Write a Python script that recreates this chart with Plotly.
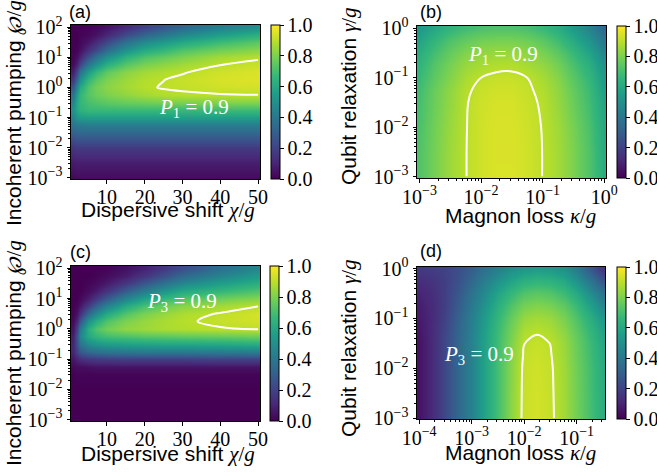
import plotly.graph_objects as go

# ---------------- data ----------------
# panels (a),(c): dispersive shift chi/g (columns) vs log10 incoherent pumping (rows)
chi = [1, 2, 3, 5, 7, 10, 15, 20, 25, 30, 40, 50]
log_pump = [-3, -2.5, -2, -1.5, -1.25, -1, -0.75, -0.5, -0.25, 0, 0.25, 0.5, 0.75, 1, 1.25, 1.5, 1.75, 2]

P1_a = [
    [0.02, 0.03, 0.03, 0.03, 0.03, 0.03, 0.03, 0.03, 0.03, 0.03, 0.03, 0.03],
    [0.07, 0.08, 0.08, 0.08, 0.08, 0.08, 0.08, 0.08, 0.08, 0.08, 0.08, 0.08],
    [0.15, 0.17, 0.17, 0.17, 0.17, 0.17, 0.17, 0.17, 0.17, 0.17, 0.17, 0.17],
    [0.30, 0.32, 0.33, 0.33, 0.33, 0.33, 0.33, 0.33, 0.33, 0.33, 0.33, 0.33],
    [0.38, 0.40, 0.41, 0.42, 0.42, 0.42, 0.42, 0.42, 0.42, 0.42, 0.42, 0.42],
    [0.45, 0.52, 0.54, 0.55, 0.55, 0.55, 0.55, 0.55, 0.55, 0.55, 0.55, 0.55],
    [0.50, 0.60, 0.64, 0.67, 0.67, 0.67, 0.67, 0.67, 0.67, 0.67, 0.68, 0.68],
    [0.45, 0.60, 0.66, 0.70, 0.72, 0.74, 0.76, 0.77, 0.78, 0.79, 0.80, 0.80],
    [0.38, 0.56, 0.66, 0.73, 0.77, 0.80, 0.83, 0.86, 0.88, 0.89, 0.895, 0.899],
    [0.27, 0.46, 0.60, 0.72, 0.78, 0.82, 0.86, 0.89, 0.905, 0.91, 0.93, 0.935],
    [0.16, 0.34, 0.50, 0.66, 0.74, 0.80, 0.85, 0.885, 0.899, 0.915, 0.94, 0.95],
    [0.08, 0.22, 0.38, 0.55, 0.66, 0.75, 0.82, 0.86, 0.88, 0.895, 0.93, 0.945],
    [0.03, 0.10, 0.22, 0.40, 0.52, 0.64, 0.74, 0.80, 0.83, 0.86, 0.899, 0.92],
    [0.01, 0.04, 0.10, 0.25, 0.37, 0.50, 0.64, 0.72, 0.76, 0.80, 0.86, 0.89],
    [0.00, 0.01, 0.04, 0.13, 0.22, 0.35, 0.51, 0.61, 0.66, 0.72, 0.78, 0.82],
    [0.00, 0.00, 0.02, 0.06, 0.12, 0.22, 0.37, 0.48, 0.54, 0.60, 0.68, 0.74],
    [0.00, 0.00, 0.01, 0.02, 0.05, 0.11, 0.23, 0.33, 0.40, 0.47, 0.56, 0.63],
    [0.00, 0.00, 0.00, 0.01, 0.02, 0.05, 0.12, 0.20, 0.27, 0.33, 0.43, 0.50],
]

P3_c = [
    [0.00, 0.00, 0.00, 0.00, 0.00, 0.00, 0.00, 0.00, 0.00, 0.00, 0.00, 0.00],
    [0.00, 0.00, 0.00, 0.00, 0.00, 0.00, 0.00, 0.00, 0.00, 0.00, 0.00, 0.00],
    [0.00, 0.00, 0.00, 0.00, 0.00, 0.00, 0.00, 0.00, 0.00, 0.00, 0.00, 0.00],
    [0.00, 0.01, 0.01, 0.01, 0.01, 0.01, 0.01, 0.01, 0.01, 0.01, 0.01, 0.01],
    [0.02, 0.03, 0.03, 0.04, 0.05, 0.05, 0.05, 0.05, 0.05, 0.05, 0.05, 0.05],
    [0.06, 0.10, 0.13, 0.16, 0.17, 0.18, 0.19, 0.19, 0.19, 0.19, 0.20, 0.20],
    [0.10, 0.20, 0.27, 0.33, 0.36, 0.38, 0.39, 0.40, 0.40, 0.40, 0.41, 0.42],
    [0.10, 0.25, 0.38, 0.48, 0.52, 0.55, 0.57, 0.58, 0.59, 0.59, 0.60, 0.62],
    [0.08, 0.26, 0.45, 0.60, 0.66, 0.70, 0.72, 0.74, 0.75, 0.76, 0.77, 0.78],
    [0.05, 0.20, 0.40, 0.62, 0.72, 0.78, 0.83, 0.85, 0.87, 0.88, 0.895, 0.905],
    [0.02, 0.11, 0.26, 0.50, 0.62, 0.72, 0.80, 0.84, 0.87, 0.89, 0.915, 0.93],
    [0.01, 0.05, 0.14, 0.34, 0.48, 0.61, 0.73, 0.80, 0.84, 0.875, 0.905, 0.935],
    [0.00, 0.02, 0.06, 0.18, 0.31, 0.45, 0.61, 0.71, 0.77, 0.82, 0.86, 0.899],
    [0.00, 0.00, 0.02, 0.08, 0.17, 0.29, 0.46, 0.58, 0.67, 0.73, 0.78, 0.82],
    [0.00, 0.00, 0.00, 0.03, 0.07, 0.15, 0.29, 0.42, 0.52, 0.60, 0.66, 0.72],
    [0.00, 0.00, 0.00, 0.01, 0.03, 0.07, 0.16, 0.27, 0.37, 0.46, 0.55, 0.62],
    [0.00, 0.00, 0.00, 0.00, 0.01, 0.03, 0.08, 0.16, 0.25, 0.34, 0.45, 0.54],
    [0.00, 0.00, 0.00, 0.00, 0.00, 0.01, 0.04, 0.09, 0.16, 0.24, 0.36, 0.46],
]

# panel (b): log10 magnon loss kappa/g (columns) vs log10 qubit relaxation gamma/g (rows)
log_kappa_b = [-3, -2.75, -2.5, -2.25, -2, -1.75, -1.5, -1.25, -1, -0.75, -0.5, -0.25, 0]
log_gamma_b = [-3, -2.5, -2, -1.5, -1.25, -1, -0.75, -0.5, -0.25, 0]
P1_b = [
    [0.72, 0.79, 0.85, 0.898, 0.93, 0.945, 0.945, 0.93, 0.899, 0.86, 0.80, 0.72, 0.62],
    [0.72, 0.79, 0.85, 0.898, 0.93, 0.944, 0.944, 0.93, 0.899, 0.86, 0.80, 0.72, 0.61],
    [0.71, 0.785, 0.845, 0.897, 0.93, 0.943, 0.943, 0.928, 0.897, 0.855, 0.79, 0.71, 0.60],
    [0.70, 0.775, 0.835, 0.895, 0.925, 0.938, 0.938, 0.92, 0.89, 0.84, 0.77, 0.69, 0.58],
    [0.69, 0.77, 0.83, 0.888, 0.918, 0.93, 0.93, 0.913, 0.88, 0.83, 0.76, 0.68, 0.56],
    [0.67, 0.75, 0.81, 0.87, 0.90, 0.915, 0.917, 0.90, 0.865, 0.815, 0.74, 0.66, 0.54],
    [0.65, 0.73, 0.79, 0.845, 0.866, 0.882, 0.884, 0.866, 0.835, 0.785, 0.71, 0.63, 0.51],
    [0.62, 0.70, 0.76, 0.81, 0.835, 0.845, 0.845, 0.83, 0.795, 0.745, 0.67, 0.58, 0.46],
    [0.58, 0.66, 0.72, 0.76, 0.785, 0.795, 0.795, 0.78, 0.745, 0.69, 0.61, 0.52, 0.40],
    [0.53, 0.60, 0.65, 0.69, 0.71, 0.72, 0.72, 0.705, 0.67, 0.62, 0.54, 0.45, 0.33],
]

# panel (d)
log_kappa_d = [-4, -3.75, -3.5, -3.25, -3, -2.75, -2.5, -2.25, -2, -1.75, -1.5, -1.25, -1, -0.75, -0.5]
log_gamma_d = [-3, -2.5, -2, -1.75, -1.5, -1.25, -1, -0.75, -0.5, -0.25, 0]
P3_d = [
    [0.05, 0.12, 0.22, 0.33, 0.45, 0.58, 0.70, 0.82, 0.92, 0.935, 0.915, 0.86, 0.78, 0.70, 0.62],
    [0.05, 0.12, 0.22, 0.33, 0.45, 0.58, 0.70, 0.82, 0.918, 0.933, 0.913, 0.858, 0.778, 0.698, 0.615],
    [0.05, 0.12, 0.22, 0.33, 0.45, 0.58, 0.70, 0.815, 0.915, 0.93, 0.91, 0.855, 0.775, 0.695, 0.61],
    [0.05, 0.12, 0.22, 0.33, 0.45, 0.58, 0.70, 0.81, 0.908, 0.924, 0.905, 0.85, 0.77, 0.69, 0.60],
    [0.05, 0.12, 0.22, 0.33, 0.45, 0.575, 0.69, 0.80, 0.899, 0.915, 0.899, 0.845, 0.765, 0.68, 0.59],
    [0.06, 0.12, 0.21, 0.32, 0.44, 0.565, 0.68, 0.785, 0.875, 0.893, 0.875, 0.825, 0.745, 0.66, 0.57],
    [0.07, 0.12, 0.20, 0.31, 0.43, 0.55, 0.66, 0.76, 0.84, 0.86, 0.845, 0.795, 0.715, 0.625, 0.53],
    [0.08, 0.12, 0.19, 0.29, 0.41, 0.52, 0.63, 0.72, 0.79, 0.81, 0.795, 0.75, 0.67, 0.57, 0.46],
    [0.10, 0.13, 0.19, 0.27, 0.38, 0.48, 0.58, 0.66, 0.72, 0.74, 0.725, 0.68, 0.60, 0.49, 0.37],
    [0.13, 0.15, 0.19, 0.25, 0.34, 0.43, 0.51, 0.58, 0.63, 0.65, 0.64, 0.60, 0.51, 0.39, 0.26],
    [0.17, 0.18, 0.20, 0.24, 0.30, 0.37, 0.43, 0.49, 0.53, 0.55, 0.54, 0.50, 0.41, 0.28, 0.15],
]

cbar_ticks = [0.0, 0.2, 0.4, 0.6, 0.8, 1.0]
level = 0.9

# ---------------- figure ----------------
W, H = 657, 473
SERIF = "Liberation Serif"
SANS = "Liberation Sans"
TICK = 20


def px_x(p):
    return p / W


def px_y(p):
    return 1 - p / H


def pow10(vals):
    return [10 ** v for v in vals]


def sup_label(e):
    s = str(e).replace("-", "\u2212")
    return "10<sup>" + s + "</sup>"


fig = go.Figure()

panels = [
    # x, y, z, domain px (l,r,t,b), cbar x px
    (chi, pow10(log_pump), P1_a, (71, 260, 25, 179), 271),
    (pow10(log_kappa_b), pow10(log_gamma_b), P1_b, (417, 606, 26, 178), 617),
    (chi, pow10(log_pump), P3_c, (71, 260, 266, 421), 270),
    (pow10(log_kappa_d), pow10(log_gamma_d), P3_d, (417, 605, 267, 419), 617),
]

for i, (x, y, z, dom, cbx) in enumerate(panels):
    ax = "" if i == 0 else str(i + 1)
    l, r, t, b = dom
    fig.add_trace(go.Heatmap(
        x=x, y=y, z=z, zmin=0, zmax=1, colorscale="Viridis", zsmooth="best",
        xaxis="x" + ax, yaxis="y" + ax, hoverinfo="skip",
        colorbar=dict(
            x=px_x(cbx), xanchor="left", xpad=0,
            y=px_y(t), yanchor="top", ypad=0,
            len=(b - t) / H, lenmode="fraction",
            thickness=9, thicknessmode="pixels",
            outlinewidth=1, outlinecolor="black",
            tickvals=cbar_ticks, ticktext=["%.1f" % v for v in cbar_ticks],
            ticks="outside", ticklen=3.5, tickwidth=1, tickcolor="black",
            tickfont=dict(family=SERIF, size=TICK, color="black"),
        ),
    ))
    fig.add_trace(go.Contour(
        x=x, y=y, z=z, xaxis="x" + ax, yaxis="y" + ax, showscale=False,
        contours=dict(start=level, end=level, size=0.1, coloring="none"),
        line=dict(color="white", width=2, smoothing=1), hoverinfo="skip",
    ))

common = dict(showline=True, linecolor="black", linewidth=1, mirror=True,
              ticks="outside", ticklen=3.5, tickwidth=1, tickcolor="black",
              tickfont=dict(family=SERIF, size=TICK, color="black"),
              showgrid=False, zeroline=False, automargin=False)


def minor_vals(e0, e1):
    out = []
    for e in range(e0, e1 + 1):
        for m in range(2, 10):
            out.append(m * 10 ** e)
    return out


def log_axis(dom, exps, rng, minor_rng):
    return dict(common, type="log", domain=dom, range=rng,
                tickvals=[10 ** e for e in exps], ticktext=[sup_label(e) for e in exps],
                minor=dict(ticks="outside", ticklen=2, tickwidth=0.8, tickcolor="black",
                           tickvals=minor_vals(*minor_rng), showgrid=False))


lay = {}
lay["xaxis"] = dict(common, domain=[px_x(71), px_x(260)], range=[0.5, 50.5],
                    tickvals=[10, 20, 30, 40, 50], anchor="y", ticklabelstandoff=-4)
lay["yaxis"] = dict(log_axis([px_y(179), px_y(25)], [-3, -2, -1, 0, 1, 2], [-3.043, 2.076], (-4, 2)), anchor="x")
lay["xaxis2"] = dict(log_axis([px_x(417), px_x(606)], [-3, -2, -1, 0], [-3.04, 0.03], (-4, 0)),
                     anchor="y2", ticklabelstandoff=-3)
lay["yaxis2"] = dict(log_axis([px_y(178), px_y(26)], [-3, -2, -1, 0], [-3.03, 0.05], (-4, 0)), anchor="x2")
lay["xaxis3"] = dict(common, domain=[px_x(71), px_x(260)], range=[0.5, 50.5],
                     tickvals=[10, 20, 30, 40, 50], anchor="y3", ticklabelstandoff=-4)
lay["yaxis3"] = dict(log_axis([px_y(421), px_y(266)], [-3, -2, -1, 0, 1, 2], [-3.043, 2.076], (-4, 2)), anchor="x3")
lay["xaxis4"] = dict(log_axis([px_x(417), px_x(605)], [-4, -3, -2, -1], [-4.04, -0.46], (-5, 0)),
                     anchor="y4", ticklabelstandoff=-3)
lay["yaxis4"] = dict(log_axis([px_y(419), px_y(267)], [-3, -2, -1, 0], [-3.02, 0.03], (-4, 0)), anchor="x4")

math = lambda s: '<span style="font-family:Liberation Serif">' + s + '</span>'
annos = []


def add_text(text, xp, yp, size, family=SANS, angle=0, color="black"):
    annos.append(dict(text=text, x=px_x(xp), y=px_y(yp), xref="paper", yref="paper",
                      showarrow=False, textangle=angle, xanchor="center", yanchor="middle",
                      font=dict(family=family, size=size, color=color)))


TS = 21
add_text("Dispersive shift " + math("<i>χ</i>/<i>g</i>"), 168, 210, TS)
add_text("Dispersive shift " + math("<i>χ</i>/<i>g</i>"), 168, 454, TS)
add_text("Magnon loss " + math("<i>κ</i>/<i>g</i>"), 520, 216, TS)
add_text("Magnon loss " + math("<i>κ</i>/<i>g</i>"), 520, 453, TS)
add_text("Incoherent pumping " + math("<i>℘</i>/<i>g</i>"), 14, 113, TS, angle=-90)
add_text("Incoherent pumping " + math("<i>℘</i>/<i>g</i>"), 14, 353, TS, angle=-90)
add_text("Qubit relaxation " + math("<i>γ</i>/<i>g</i>"), 349, 96, TS, angle=-90)
add_text("Qubit relaxation " + math("<i>γ</i>/<i>g</i>"), 349, 348, TS, angle=-90)
add_text("(a)", 80, 12, 18)
add_text("(b)", 431, 12, 18)
add_text("(c)", 80, 252, 18)
add_text("(d)", 431, 251, 18)

# contour labels (placed in data coordinates)
LS = 21
lab = "<i>P</i><sub>%s</sub> = 0.9"
cl = dict(family=SERIF, size=LS, color="white")
annos.append(dict(text=lab % "1", x=33, y=-0.68, xref="x", yref="y", showarrow=False, font=cl))
annos.append(dict(text=lab % "1", x=-1.65, y=-0.54, xref="x2", yref="y2", showarrow=False, font=cl))
annos.append(dict(text=lab % "3", x=29.9, y=0.88, xref="x3", yref="y3", showarrow=False, font=cl))
annos.append(dict(text=lab % "3", x=-2.86, y=-1.73, xref="x4", yref="y4", showarrow=False, font=cl))

fig.update_layout(width=W, height=H,
                  margin=dict(l=0, r=0, t=0, b=0, pad=0, autoexpand=False),
                  paper_bgcolor="white", plot_bgcolor="white", showlegend=False,
                  annotations=annos, **lay)

fig.write_html("out.html")
